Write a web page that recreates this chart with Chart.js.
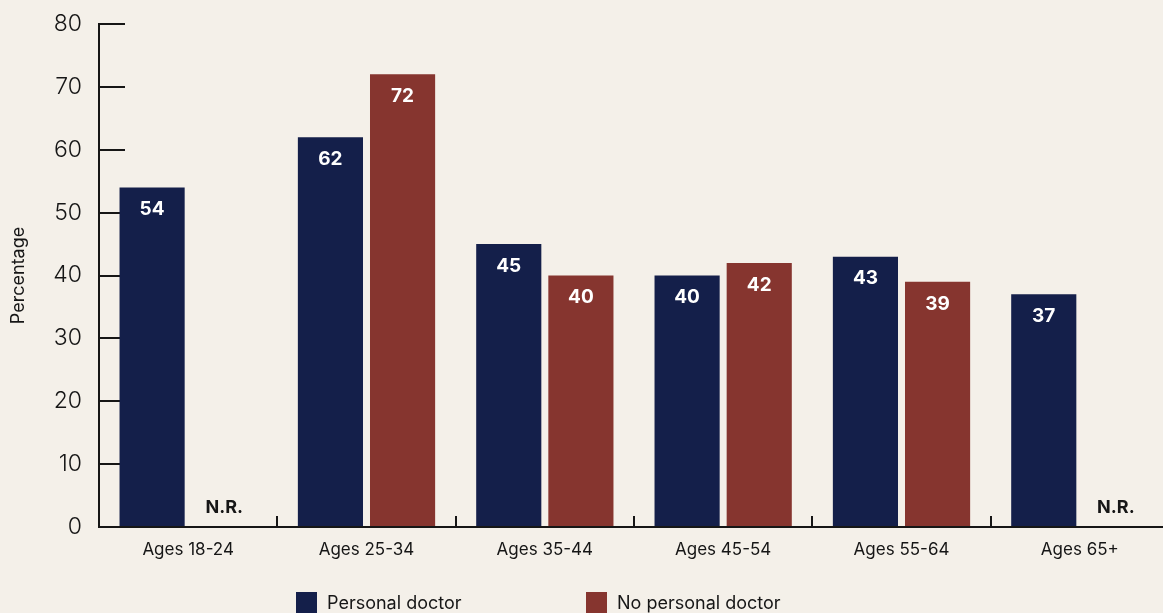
<!DOCTYPE html>
<html>
<head>
<meta charset="utf-8">
<script src="https://cdn.jsdelivr.net/npm/chart.js@4.4.1/dist/chart.umd.min.js"></script>
<style>
  html, body { margin: 0; padding: 0; background: #f4f0e9; }
  #ageChart { display: block; background: #f4f0e9; }
</style>
</head>
<body>
<canvas id="ageChart" width="1163" height="613"></canvas>
<script>
const ageGroups = ["Ages 18-24", "Ages 25-34", "Ages 35-44", "Ages 45-54", "Ages 55-64", "Ages 65+"];
const personalDoctor = [54, 62, 45, 40, 43, 37];
const noPersonalDoctor = [null, 72, 40, 42, 39, null];
const seriesNames = ["Personal doctor", "No personal doctor"];
const seriesColors = ["#141f4a", "#86352f"];

const FONT = "Inter, 'Noto Sans', sans-serif";
const INK = "#161616";

// white numbers inside the bars, "N.R." where there is no value
const barValueLabels = {
  id: "barValueLabels",
  afterDatasetsDraw(chart) {
    const ctx = chart.ctx;
    const base = chart.scales.y.getPixelForValue(0);
    chart.data.datasets.forEach((ds, i) => {
      const meta = chart.getDatasetMeta(i);
      meta.data.forEach((bar, j) => {
        const v = ds.data[j];
        ctx.save();
        ctx.textAlign = "center";
        ctx.textBaseline = "middle";
        if (v === null) {
          ctx.fillStyle = INK;
          ctx.font = "bold 18px " + FONT;
          ctx.fillText("N.R.", bar.x, base - 19);
        } else {
          ctx.fillStyle = "#ffffff";
          ctx.font = "bold 19px " + FONT;
          ctx.fillText(String(v), bar.x, bar.y + 22);
        }
        ctx.restore();
      });
    });
  }
};

// legend along the bottom edge
const bottomLegend = {
  id: "bottomLegend",
  afterDraw(chart) {
    const ctx = chart.ctx;
    const starts = [296, 586];
    ctx.save();
    ctx.font = "18px " + FONT;
    ctx.textBaseline = "middle";
    chart.data.datasets.forEach((ds, i) => {
      const x = starts[i];
      ctx.fillStyle = ds.backgroundColor;
      ctx.fillRect(x, 592, 21, 21);
      ctx.fillStyle = INK;
      ctx.fillText(ds.label, x + 31, 604);
    });
    ctx.restore();
  }
};

// the plot area in the original runs a few px past the right edge
const overhang = {
  id: "overhang",
  afterLayout(chart) {
    const extra = 6;
    const x = chart.scales.x;
    chart.chartArea.right += extra;
    chart.chartArea.width += extra;
    x.right += extra;
    x.width += extra;
    x.configure();
  }
};

new Chart(document.getElementById("ageChart"), {
  type: "bar",
  data: {
    labels: ageGroups,
    datasets: [
      {
        label: seriesNames[0],
        data: personalDoctor,
        backgroundColor: seriesColors[0],
        categoryPercentage: 0.809,
        barPercentage: 0.903,
      },
      {
        label: seriesNames[1],
        data: noPersonalDoctor,
        backgroundColor: seriesColors[1],
        categoryPercentage: 0.809,
        barPercentage: 0.903,
      },
    ],
  },
  options: {
    responsive: false,
    animation: false,
    devicePixelRatio: 1,
    layout: { padding: { top: 24, right: 0, bottom: 0, left: 0 } },
    plugins: {
      legend: { display: false },
      tooltip: { enabled: false },
    },
    scales: {
      x: {
        ticks: { color: INK, font: { family: FONT, size: 17 }, padding: 24 },
        grid: { drawOnChartArea: false, tickLength: -11, lineWidth: 2, color: INK, offset: true },
        border: { color: INK, width: 2 },
        afterFit(scale) {
          scale.height = 86;
          scale.paddingLeft = 0;
          scale.paddingRight = 0;
        },
      },
      y: {
        min: 0,
        max: 80,
        ticks: { stepSize: 10, color: INK, font: { family: FONT, size: 23, weight: 300 }, padding: 43 },
        grid: { drawOnChartArea: false, tickLength: -26, lineWidth: 2, color: INK },
        border: { color: INK, width: 2 },
        title: {
          display: true,
          text: "Percentage",
          color: INK,
          font: { family: FONT, size: 18 },
          padding: { top: 8, bottom: 0 },
        },
        afterFit(scale) {
          scale.width = 99;
          scale.paddingTop = 0;
          scale.paddingBottom = 0;
        },
      },
    },
  },
  plugins: [overhang, barValueLabels, bottomLegend],
});
</script>
</body>
</html>
